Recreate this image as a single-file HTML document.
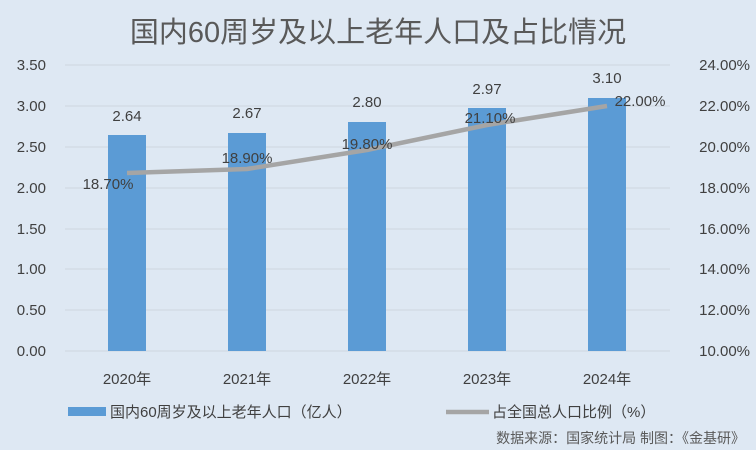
<!DOCTYPE html>
<html><head><meta charset="utf-8"><style>
body{margin:0;background:#dee8f3;}
svg{display:block;font-family:"Liberation Sans","Noto Sans CJK SC",sans-serif;}
</style></head><body>
<svg width="756" height="450" viewBox="0 0 756 450">
<rect width="756" height="450" fill="#dee8f3"/>
<text x="378" y="42" font-size="29" fill="#595959" text-anchor="middle">国内60周岁及以上老年人口及占比情况</text>
<g stroke="#cfd6df" stroke-width="1">
<line x1="65" x2="670" y1="65" y2="65"/><line x1="65" x2="670" y1="106" y2="106"/>
<line x1="65" x2="670" y1="147" y2="147"/><line x1="65" x2="670" y1="188" y2="188"/>
<line x1="65" x2="670" y1="229" y2="229"/><line x1="65" x2="670" y1="269" y2="269"/>
<line x1="65" x2="670" y1="310" y2="310"/><line x1="65" x2="670" y1="351" y2="351"/>
</g>
<g font-size="15" fill="#404040" text-anchor="end">
<text x="46" y="70">3.50</text><text x="46" y="111">3.00</text><text x="46" y="152">2.50</text>
<text x="46" y="193">2.00</text><text x="46" y="234">1.50</text><text x="46" y="274">1.00</text>
<text x="46" y="315">0.50</text><text x="46" y="356">0.00</text>
</g>
<g font-size="15" fill="#404040" text-anchor="end">
<text x="750" y="70">24.00%</text><text x="750" y="111">22.00%</text><text x="750" y="152">20.00%</text>
<text x="750" y="193">18.00%</text><text x="750" y="234">16.00%</text><text x="750" y="274">14.00%</text>
<text x="750" y="315">12.00%</text><text x="750" y="356">10.00%</text>
</g>
<g fill="#5b9bd5">
<rect x="108" y="135" width="38" height="216"/>
<rect x="228" y="133" width="38" height="218"/>
<rect x="348" y="122" width="38" height="229"/>
<rect x="468" y="108" width="38" height="243"/>
<rect x="588" y="98" width="38" height="253"/>
</g>
<polyline points="127,173 247,169 367,150 487,125 607,106" fill="none" stroke="#a5a5a5" stroke-width="4.5" stroke-linejoin="round"/>
<g font-size="15" fill="#404040" text-anchor="middle">
<text x="127" y="121">2.64</text><text x="247" y="118">2.67</text><text x="367" y="107">2.80</text>
<text x="487" y="94">2.97</text><text x="607" y="83">3.10</text>
<text x="108" y="189">18.70%</text><text x="247" y="163">18.90%</text><text x="367" y="149">19.80%</text>
<text x="490" y="123">21.10%</text><text x="640" y="106">22.00%</text>
</g>
<g font-size="15" fill="#404040" text-anchor="middle">
<text x="127" y="384">2020年</text><text x="247" y="384">2021年</text><text x="367" y="384">2022年</text>
<text x="487" y="384">2023年</text><text x="607" y="384">2024年</text>
</g>
<rect x="68" y="407" width="38" height="9" fill="#5b9bd5"/>
<text x="110" y="417" font-size="15" fill="#404040">国内60周岁及以上老年人口（亿人）</text>
<line x1="446" x2="489" y1="412" y2="412" stroke="#a5a5a5" stroke-width="4.5"/>
<text x="492" y="417" font-size="15" fill="#404040">占全国总人口比例（%）</text>
<text x="745" y="443" font-size="14" fill="#595959" text-anchor="end">数据来源：国家统计局  制图：《金基研》</text>
</svg>
</body></html>
